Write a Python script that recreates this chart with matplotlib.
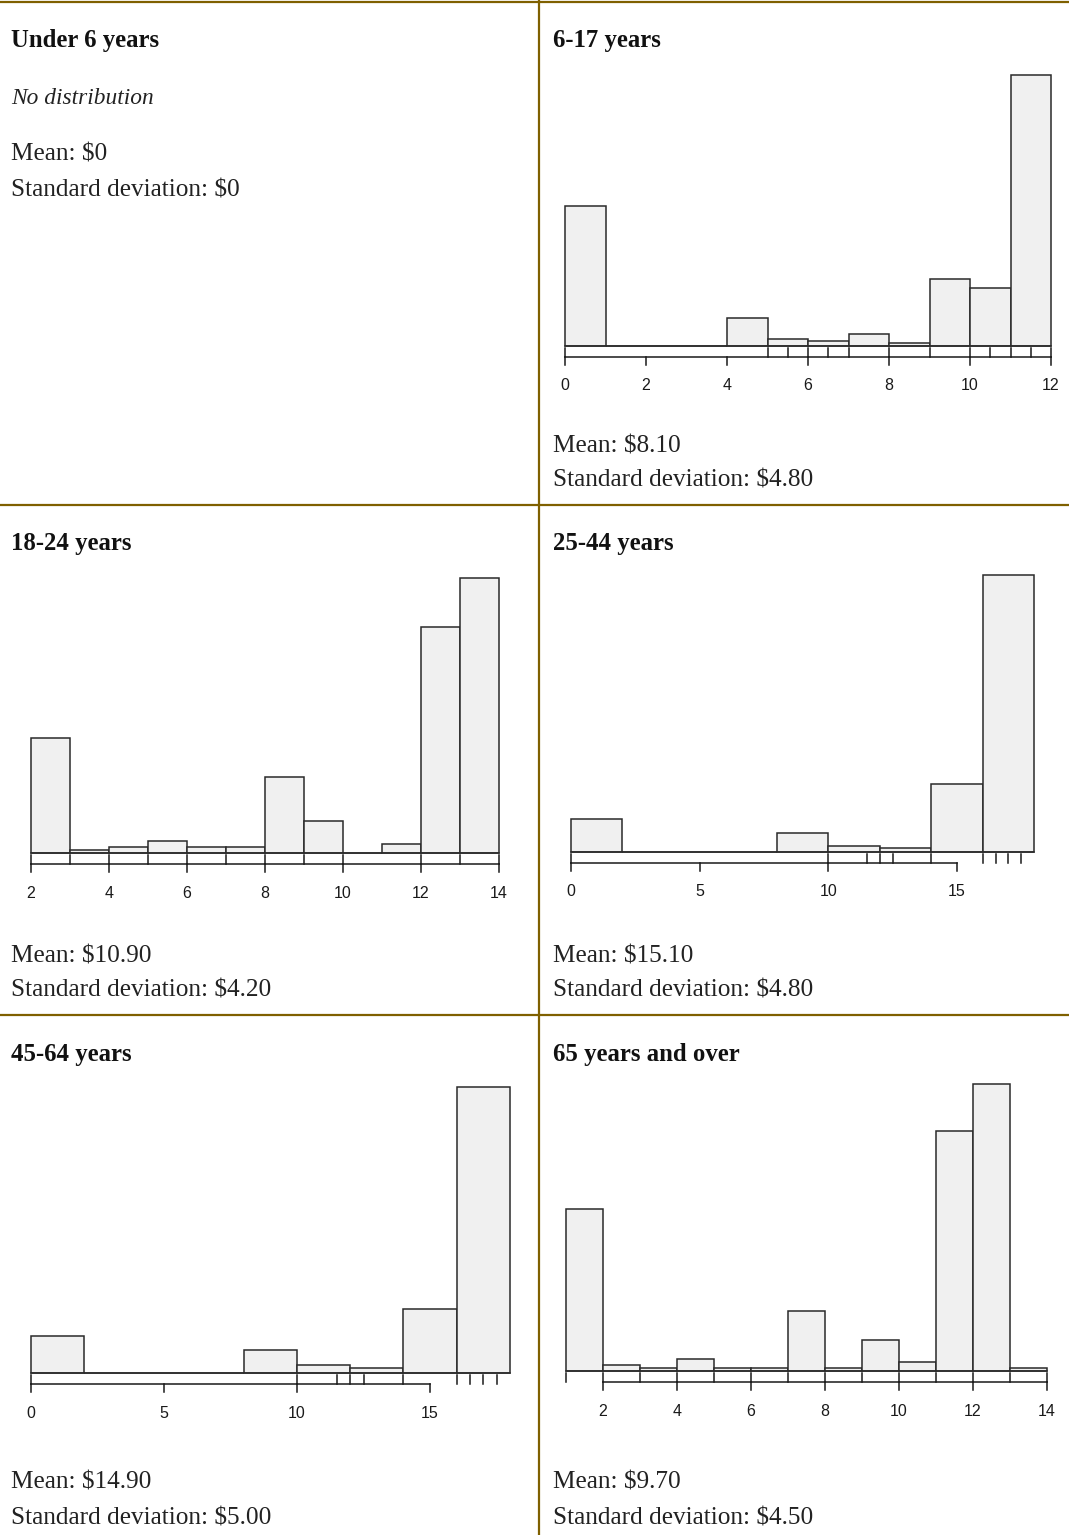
import numpy as np
import matplotlib.pyplot as plt
from matplotlib import transforms

W, H = 1069, 1535

# histogram data per age group: bin edges, bar heights, rug values, axis ticks
edges_617 = np.arange(0, 13)
freq_617 = [140, 0, 0, 0, 28, 7, 5, 12, 3, 67, 58, 271]
rug_617 = [0, 5, 5.5, 6, 6.5, 7, 8, 9, 10, 10.5, 11, 11.5, 12]
ticks_617 = [0, 2, 4, 6, 8, 10, 12]

edges_1824 = np.arange(2, 15)
freq_1824 = [115, 3, 6, 12, 6, 6, 76, 32, 0, 9, 226, 275]
rug_1824 = [2, 3, 4, 5, 6, 7, 8, 9, 10, 12, 13, 14]
ticks_1824 = [2, 4, 6, 8, 10, 12, 14]

edges_2544 = np.arange(0, 19, 2)
freq_2544 = [33, 0, 0, 0, 19, 6, 4, 68, 276]
rug_2544 = [0, 10, 11.5, 12, 12.5, 14, 16, 16.5, 17, 17.5]
ticks_2544 = [0, 5, 10, 15]

edges_4564 = np.arange(0, 19, 2)
freq_4564 = [37, 0, 0, 0, 23, 8, 5, 64, 285]
rug_4564 = [0, 10, 11.5, 12, 12.5, 14, 16, 16.5, 17, 17.5]
ticks_4564 = [0, 5, 10, 15]

edges_65 = np.arange(1, 15)
freq_65 = [161, 6, 3, 12, 3, 3, 60, 3, 31, 9, 239, 286, 3]
rug_65 = [1, 2, 3, 4, 5, 6, 7, 8, 9, 10, 11, 12, 13, 14]
ticks_65 = [2, 4, 6, 8, 10, 12, 14]

titles = ["Under 6 years", "6-17 years", "18-24 years",
          "25-44 years", "45-64 years", "65 years and over"]
means = ["$0", "$8.10", "$10.90", "$15.10", "$14.90", "$9.70"]
sds = ["$0", "$4.80", "$4.20", "$4.80", "$5.00", "$4.50"]

serif = "Liberation Serif"
rule_col = "#7f6000"

fig = plt.figure(figsize=(W / 100, H / 100), dpi=100)


def fx(px):
    return px / W


def fy(py):
    return 1 - py / H


def hist_panel(edges, freq, rug, ticks, tick_px, base_px, top_px):
    t0, t1 = ticks[0], ticks[-1]
    scale = (tick_px[1] - tick_px[0]) / (t1 - t0)
    left = tick_px[0] + (edges[0] - t0) * scale
    right = tick_px[0] + (edges[-1] - t0) * scale
    hpx = base_px - top_px
    ax = fig.add_axes([fx(left), fy(base_px), (right - left) / W, hpx / H])
    ax.set_xlim(edges[0], edges[-1])
    ax.set_ylim(0, max(freq))
    ax.axis("off")
    ax.bar(edges[:-1], freq, width=np.diff(edges), align="edge",
           color="#f0f0f0", edgecolor="#2a2a2a", linewidth=1.1, clip_on=False)
    ax.plot([edges[0], edges[-1]], [0, 0], color="#2a2a2a", lw=1.1,
            clip_on=False)
    tr = transforms.blended_transform_factory(ax.transData, ax.transAxes)
    yb = lambda off: -off / hpx
    # rug marks between the bars and the axis line
    for v in rug:
        ax.plot([v, v], [yb(2), yb(11)], color="#1a1a1a", lw=1.1,
                transform=tr, clip_on=False)
    # axis line, ticks and labels
    ax.plot([t0, t1], [yb(11), yb(11)], color="#1a1a1a", lw=1.1,
            transform=tr, clip_on=False)
    for t in ticks:
        ax.plot([t, t], [yb(11), yb(19)], color="#1a1a1a", lw=1.1,
                transform=tr, clip_on=False)
        ax.text(t, yb(40), str(t), transform=tr, ha="center", va="center",
                fontsize=11.5, family="Liberation Sans", color="#1a1a1a")
    return ax


# text blocks
col_x = [11, 553, 11, 553, 11, 553]
title_y = [41, 41, 543, 543, 1054, 1054]
mean_y = [155, 446, 956, 956, 1483, 1483]
for i in range(6):
    fig.text(fx(col_x[i]), fy(title_y[i]), titles[i], ha="left", va="center",
             fontsize=17.8, family=serif, weight="bold", color="#111111")
    fig.text(fx(col_x[i]), fy(mean_y[i]), "Mean: " + means[i], ha="left",
             va="center", fontsize=18.2, family=serif, color="#222222")
    fig.text(fx(col_x[i]), fy(mean_y[i] + 35), "Standard deviation: " + sds[i],
             ha="left", va="center", fontsize=18.2, family=serif,
             color="#222222")
fig.text(fx(11), fy(98), "No distribution", ha="left", va="center",
         fontsize=16.8, family=serif, style="italic", color="#222222")

hist_panel(edges_617, freq_617, rug_617, ticks_617, (565, 1051), 346, 75)
hist_panel(edges_1824, freq_1824, rug_1824, ticks_1824, (31, 499), 853, 578)
hist_panel(edges_2544, freq_2544, rug_2544, ticks_2544, (571, 957), 852, 575)
hist_panel(edges_4564, freq_4564, rug_4564, ticks_4564, (31, 430), 1373, 1087)
hist_panel(edges_65, freq_65, rug_65, ticks_65, (603, 1047), 1371, 1084)

# panel dividers
for y in [2, 505, 1015]:
    fig.add_artist(plt.Line2D([0, 1], [fy(y), fy(y)], color=rule_col, lw=1.6))
fig.add_artist(plt.Line2D([fx(539), fx(539)], [0, 1], color=rule_col, lw=1.6))

fig.savefig("out.png", dpi=100)
